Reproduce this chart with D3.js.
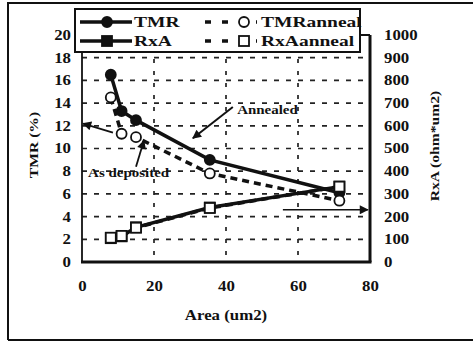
<!DOCTYPE html>
<html>
<head>
<meta charset="utf-8">
<script src="https://cdn.jsdelivr.net/npm/d3@7"></script>
<style>
  body { margin: 0; background: #fff; }
  svg text { font-family: "Liberation Serif", "Times New Roman", serif; font-weight: bold; fill: #111; }
</style>
</head>
<body>
<svg id="chart" width="473" height="342"></svg>
<script>
// device area (um2)
var area = [8, 11, 15, 35.5, 71.5];
// TMR (%) - left axis
var tmr = [16.5, 13.3, 12.5, 9.0, 6.1];
var tmrAnneal = [14.5, 11.3, 11.0, 7.8, 5.4];
// RxA (ohm*um2) - right axis
var rxa = [105, 113, 153, 240, 332];
var rxaAnneal = [107, 115, 151, 238, 332];

var xTicks = [0, 20, 40, 60, 80];
var yTicks = [0, 2, 4, 6, 8, 10, 12, 14, 16, 18, 20];
var y2Ticks = [0, 100, 200, 300, 400, 500, 600, 700, 800, 900, 1000];

var svg = d3.select("#chart");

var x = d3.scaleLinear().domain([0, 80]).range([82, 370]);
var y = d3.scaleLinear().domain([0, 20]).range([262, 35]);
var y2 = d3.scaleLinear().domain([0, 1000]).range([262, 35]);

// scanned text looks wide, stretch it a bit
function stretch(sel, k) {
  sel.each(function() {
    var w = this.getComputedTextLength();
    d3.select(this).attr("textLength", w * k).attr("lengthAdjust", "spacingAndGlyphs");
  });
}

// outer frame
svg.append("path")
  .attr("d", "M8,340 L8,3 L473,3 M8,340 L473,340")
  .attr("fill", "none").attr("stroke", "#111").attr("stroke-width", 2);

// arrow head
svg.append("defs").append("marker")
  .attr("id", "head").attr("viewBox", "0 0 10 10")
  .attr("refX", 9).attr("refY", 5)
  .attr("markerWidth", 11).attr("markerHeight", 9)
  .attr("markerUnits", "userSpaceOnUse")
  .attr("orient", "auto")
  .append("path").attr("d", "M0,0 L10,5 L0,10 Z").attr("fill", "#111");

// grid
svg.append("g").selectAll("line")
  .data(yTicks.slice(1, -1))
  .enter().append("line")
  .attr("x1", x(0)).attr("x2", x(80))
  .attr("y1", function(d) { return y(d); }).attr("y2", function(d) { return y(d); })
  .attr("stroke", "#222").attr("stroke-width", 1.7).attr("stroke-dasharray", "5,7");

svg.append("g").selectAll("line")
  .data(xTicks.slice(1, -1))
  .enter().append("line")
  .attr("x1", function(d) { return x(d); }).attr("x2", function(d) { return x(d); })
  .attr("y1", y(20)).attr("y2", y(0))
  .attr("stroke", "#222").attr("stroke-width", 1.7).attr("stroke-dasharray", "4,8");

// plot border
svg.append("line").attr("x1", x(0)).attr("x2", x(0)).attr("y1", y(20)).attr("y2", y(0))
  .attr("stroke", "#111").attr("stroke-width", 1.8);
svg.append("line").attr("x1", x(0)).attr("x2", x(80)).attr("y1", y(20)).attr("y2", y(20))
  .attr("stroke", "#111").attr("stroke-width", 1.8);
svg.append("line").attr("x1", x(0) - 1).attr("x2", x(80) + 1.5).attr("y1", y(0)).attr("y2", y(0))
  .attr("stroke", "#111").attr("stroke-width", 3);
svg.append("line").attr("x1", x(80)).attr("x2", x(80)).attr("y1", y(20)).attr("y2", y(0))
  .attr("stroke", "#111").attr("stroke-width", 3);

// axes labels
var fmt = d3.format("d");
var gl = svg.append("g").attr("transform", "translate(71,0)")
  .call(d3.axisLeft(y).tickValues(yTicks).tickSize(0).tickPadding(0).tickFormat(fmt));
gl.select(".domain").remove();
gl.selectAll("text").attr("font-size", 14).attr("font-family", null).attr("fill", null)
  .call(stretch, 1.2);

var gr = svg.append("g").attr("transform", "translate(384,0)")
  .call(d3.axisRight(y2).tickValues(y2Ticks).tickSize(0).tickPadding(0).tickFormat(fmt));
gr.select(".domain").remove();
gr.selectAll("text").attr("font-size", 14).attr("font-family", null).attr("fill", null)
  .call(stretch, 1.2);

var gb = svg.append("g").attr("transform", "translate(0,281)")
  .call(d3.axisBottom(x).tickValues(xTicks).tickSize(0).tickPadding(0).tickFormat(fmt));
gb.select(".domain").remove();
gb.selectAll("text").attr("font-size", 14).attr("font-family", null).attr("fill", null)
  .call(stretch, 1.2);

svg.append("text").attr("x", (x(0) + x(80)) / 2).attr("y", 320)
  .attr("text-anchor", "middle").attr("font-size", 14).text("Area (um2)")
  .call(stretch, 1.2);
svg.append("text").attr("transform", "translate(38,145) rotate(-90)")
  .attr("text-anchor", "middle").attr("font-size", 13).text("TMR (%)")
  .call(stretch, 1.2);
svg.append("text").attr("transform", "translate(439,146) rotate(-90)")
  .attr("text-anchor", "middle").attr("font-size", 13).text("RxA (ohm*um2)")
  .call(stretch, 1.2);

// series
var series = [
  { name: "RxA", vals: rxa, scale: y2, shape: "square", fill: "#111", dash: null },
  { name: "TMR", vals: tmr, scale: y, shape: "circle", fill: "#111", dash: null },
  { name: "TMRanneal", vals: tmrAnneal, scale: y, shape: "circle", fill: "#fff", dash: "7,5" },
  { name: "RxAanneal", vals: rxaAnneal, scale: y2, shape: "square", fill: "#fff", dash: "7,5" }
];

function drawMarker(g, shape, fill, cx, cy) {
  if (shape === "circle") {
    g.append("circle").attr("cx", cx).attr("cy", cy).attr("r", 5)
      .attr("fill", fill).attr("stroke", "#111").attr("stroke-width", 1.8);
  } else {
    g.append("rect").attr("x", cx - 5).attr("y", cy - 5).attr("width", 10).attr("height", 10)
      .attr("fill", fill).attr("stroke", "#111").attr("stroke-width", 1.8);
  }
}

series.forEach(function(s) {
  var pts = area.map(function(a, i) { return [x(a), s.scale(s.vals[i])]; });
  svg.append("path").attr("d", d3.line()(pts))
    .attr("fill", "none").attr("stroke", "#111").attr("stroke-width", 3.5)
    .attr("stroke-dasharray", s.dash);
  var g = svg.append("g");
  pts.forEach(function(p) { drawMarker(g, s.shape, s.fill, p[0], p[1]); });
});

// legend
var legend = svg.append("g");
legend.append("rect").attr("x", 75).attr("y", 9).attr("width", 285).attr("height", 43)
  .attr("fill", "#fff").attr("stroke", "#111").attr("stroke-width", 2);
var legendItems = [
  { s: series[1], lx: 80, ly: 22 },
  { s: series[0], lx: 80, ly: 41 },
  { s: series[2], lx: 205, ly: 22 },
  { s: series[3], lx: 205, ly: 41 }
];
legendItems.forEach(function(d) {
  var solid = d.s.dash === null;
  legend.append("line").attr("x1", d.lx).attr("x2", d.lx + 52).attr("y1", d.ly).attr("y2", d.ly)
    .attr("stroke", "#111").attr("stroke-width", 3.5)
    .attr("stroke-dasharray", solid ? null : "6,11");
  drawMarker(legend, d.s.shape, d.s.fill, solid ? d.lx + 27 : d.lx + 39, d.ly);
  legend.append("text").attr("x", d.lx + (solid ? 54 : 56)).attr("y", d.ly + 5)
    .attr("font-size", 15).text(d.s.name)
    .call(stretch, 1.3);
});

// annotations
function arrow(x1, y1, x2, y2, w) {
  svg.append("line").attr("x1", x(x1)).attr("y1", y(y1)).attr("x2", x(x2)).attr("y2", y(y2))
    .attr("stroke", "#111").attr("stroke-width", w).attr("marker-end", "url(#head)");
}
arrow(41.9, 13.66, 30.8, 10.9, 2);
arrow(8.6, 11.4, 0.3, 12.2, 1.8);
arrow(15.0, 8.4, 17.2, 10.7, 1.8);
arrow(55.8, 4.6, 79.4, 4.6, 1.5);

svg.append("text").attr("x", x(43.1)).attr("y", y(13.0)).attr("font-size", 13).text("Annealed")
  .call(stretch, 1.15);
svg.append("text").attr("x", x(1.7)).attr("y", y(7.5)).attr("font-size", 13).text("As deposited")
  .call(stretch, 1.15);
</script>
</body>
</html>
